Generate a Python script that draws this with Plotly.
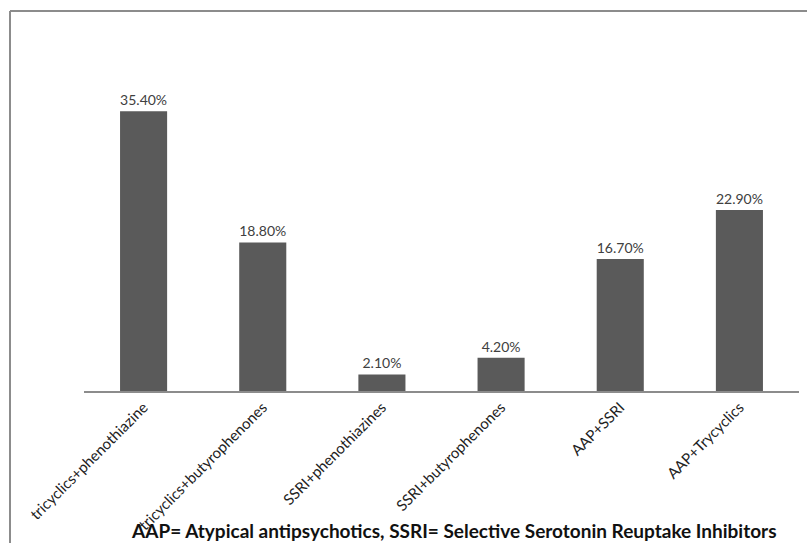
import plotly.graph_objects as go

categories = [
    "tricyclics+phenothiazine",
    "tricyclics+butyrophenones",
    "SSRI+phenothiazines",
    "SSRI+butyrophenones",
    "AAP+SSRI",
    "AAP+Trycyclics",
]
percentages = [35.4, 18.8, 2.1, 4.2, 16.7, 22.9]
footnote = "AAP= Atypical antipsychotics, SSRI= Selective Serotonin Reuptake Inhibitors"

W, H = 807, 543
L, R, T, B = 84, 8, 40, 152
plot_w = W - L - R
plot_h = H - T - B


def px_x(x):
    return (x - L) / plot_w


def px_y(y):
    return (H - B - y) / plot_h


fig = go.Figure(
    go.Bar(
        x=categories,
        y=percentages,
        marker=dict(color="#5a5a5a", line=dict(width=0)),
        texttemplate="%{y:.2f}%",
        textposition="outside",
        constraintext="none",
        textfont=dict(family="Lato", size=14, color="#404040"),
        cliponaxis=False,
        width=0.395,
    )
)

border = dict(color="#8c8c8c", width=2)

fig.update_layout(
    width=W,
    height=H,
    margin=dict(l=L, r=R, t=T, b=B, autoexpand=False),
    paper_bgcolor="white",
    plot_bgcolor="white",
    showlegend=False,
    xaxis=dict(
        tickangle=-45,
        showline=True,
        linecolor="#8c8c8c",
        linewidth=1.5,
        showgrid=False,
        ticks="",
        automargin=False,
        tickfont=dict(family="Lato", size=15, color="#222222"),
        range=[-0.5, 5.5],
    ),
    yaxis=dict(visible=False, range=[0, 44.4], showgrid=False, zeroline=False),
    shapes=[
        # outer frame: top and left edges
        dict(type="line", xref="paper", yref="paper",
             x0=px_x(10), x1=px_x(W), y0=px_y(11), y1=px_y(11), line=border),
        dict(type="line", xref="paper", yref="paper",
             x0=px_x(10), x1=px_x(10), y0=px_y(11), y1=px_y(H), line=border),
    ],
    annotations=[
        dict(
            text="<b>" + footnote + "</b>",
            xref="paper", yref="paper",
            x=px_x(454), y=px_y(530),
            xanchor="center", yanchor="middle",
            showarrow=False,
            font=dict(family="Lato", size=19, color="#111111"),
        )
    ],
)

fig.write_html(
    "out.html",
    config={"displayModeBar": False},
    post_script="document.body.style.margin='0';document.body.style.overflow='hidden';",
)
